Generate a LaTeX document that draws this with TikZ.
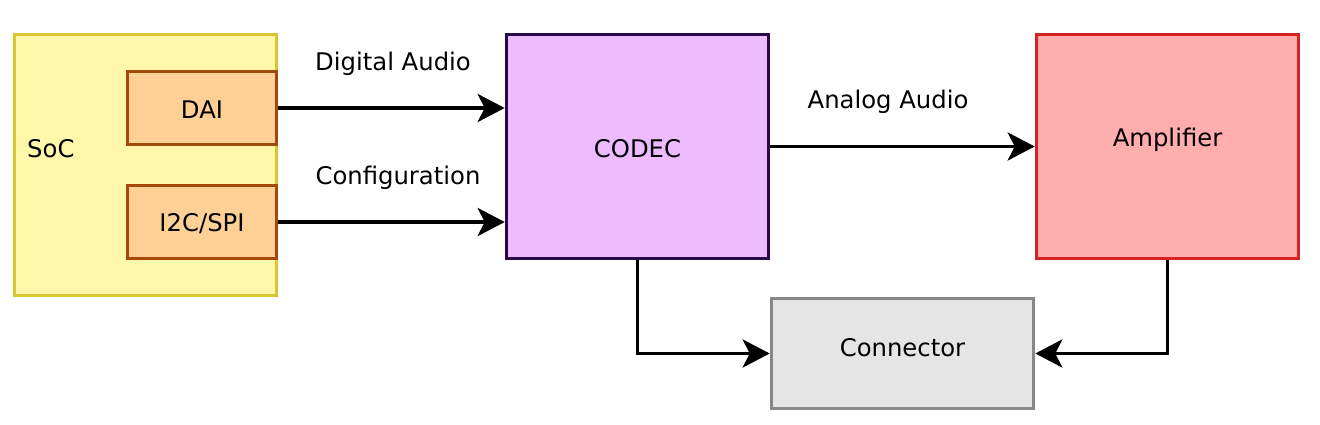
\documentclass[tikz,border=0pt]{standalone}
\usepackage{fontspec}
\setmainfont{DejaVu Sans}
\usetikzlibrary{arrows.meta}
\definecolor{socfill}{HTML}{FFF8AA}
\definecolor{socdraw}{HTML}{D8C82E}
\definecolor{daifill}{HTML}{FFD096}
\definecolor{daidraw}{HTML}{A4480C}
\definecolor{codecfill}{HTML}{EDBBFF}
\definecolor{codecdraw}{HTML}{2A0A44}
\definecolor{ampfill}{HTML}{FFADAD}
\definecolor{ampdraw}{HTML}{D82222}
\definecolor{confill}{HTML}{E5E5E5}
\definecolor{condraw}{HTML}{888888}
\begin{document}
\begin{tikzpicture}[x=1pt,y=-1pt,
  every node/.style={font=\fontsize{24.3}{28}\selectfont, inner sep=0pt},
  blk/.style={draw, line width=3.6pt, rectangle},
  lbl/.style={},
  conn/.style={line width=3.6pt, -{Stealth[length=27pt,width=28pt,inset=7pt]}}]
\useasboundingbox (0,0) rectangle (1320,424);
\node[blk, fill=socfill, draw=socdraw, minimum width=262pt, minimum height=261pt] (soc) at (145.5,165) {};
\node[lbl, anchor=west] (soct) at (27,149) {SoC};
\node[blk, fill=daifill, draw=daidraw, minimum width=149pt, minimum height=73pt] (dai) at (202,108) {};
\node[lbl] (dait) at (202,110) {DAI};
\node[blk, fill=daifill, draw=daidraw, minimum width=149pt, minimum height=73pt] (i2c) at (202,222) {};
\node[lbl] (i2ct) at (202,224) {I2C/SPI};
\node[blk, fill=codecfill, draw=codecdraw, minimum width=262pt, minimum height=224pt] (codec) at (637.5,146.5) {};
\node[lbl] (codect) at (637.5,149) {CODEC};
\node[blk, fill=ampfill, draw=ampdraw, minimum width=262pt, minimum height=224pt] (amp) at (1167.5,146.5) {};
\node[lbl] (ampt) at (1167.5,140) {Amplifier};
\node[blk, fill=confill, draw=condraw, minimum width=262pt, minimum height=110pt] (con) at (902.5,353.5) {};
\node[lbl] (cont) at (902.5,348) {Connector};
\node[lbl] (l1) at (393,64) {Digital Audio};
\node[lbl] (l2) at (398,178) {Configuration};
\node[lbl] (l3) at (888,102) {Analog Audio};
\draw[conn] (dai.east) -- (dai.east -| codec.west);
\draw[conn] (i2c.east) -- (i2c.east -| codec.west);
\draw[conn] (codec.east) -- (amp.west);
\draw[conn] (codec.south) |- (con.west);
\draw[conn] (amp.south) |- (con.east);
\end{tikzpicture}
\end{document}
